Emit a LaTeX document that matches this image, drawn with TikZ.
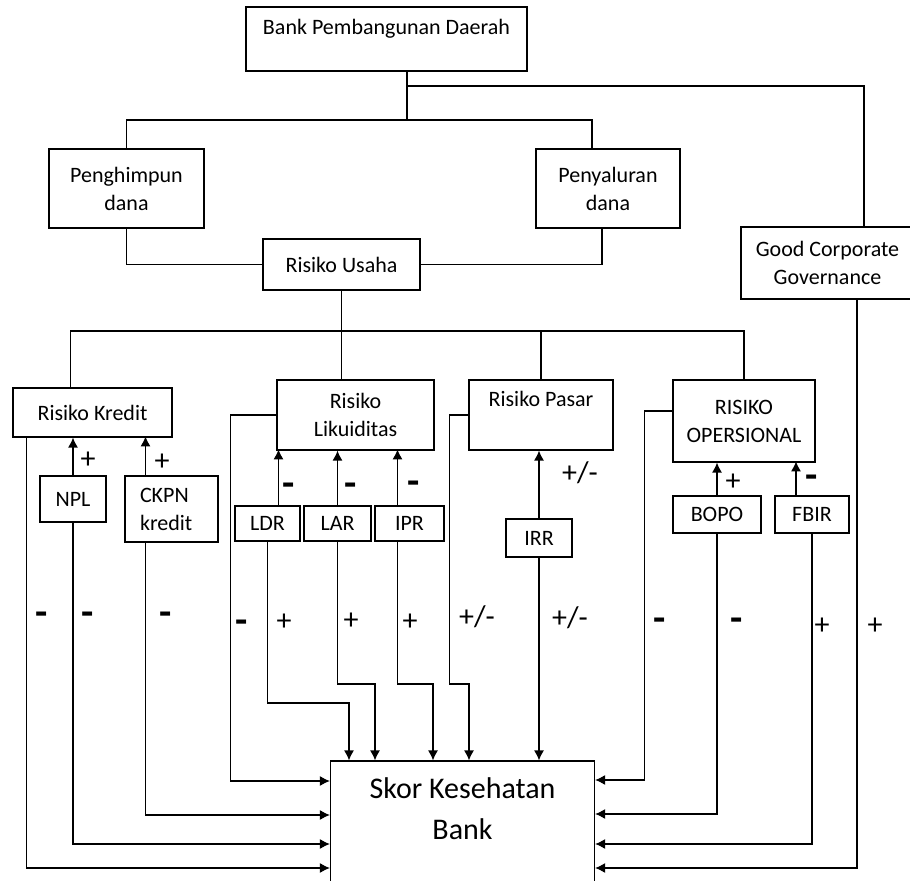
\documentclass[tikz,border=0pt]{standalone}
\usepackage{fontspec}
\setmainfont{Carlito}
\usetikzlibrary{arrows.meta,calc}

\begin{document}
\begin{tikzpicture}[x=0.5pt,y=-0.5pt,>={Latex[length=5pt,width=5pt]},line width=0.6pt,
                    box/.style={draw,rectangle,inner sep=2pt,align=center,font=\fontsize{11}{14}\selectfont},
                    plus/.style={font=\fontsize{15}{15}\selectfont},
                    minus/.style={font=\fontsize{20}{20}\selectfont\bfseries}]

  \useasboundingbox (0,0) rectangle (910,881);

  % boxes
  \node[box,minimum width=140.5pt,minimum height=32pt,text height=7.5pt,text depth=11.5pt] (bpd) at (386.5,39) {Bank Pembangunan Daerah};
  \node[box,minimum width=77.5pt,minimum height=39.5pt] (hmp) at (126.5,188.5) {Penghimpun\\dana};
  \node[box,minimum width=72pt,minimum height=39.5pt] (slr) at (608,188.5) {Penyaluran\\dana};
  \node[box,minimum width=86.5pt,minimum height=36pt] (gcg) at (827.5,263) {Good Corporate\\Governance};
  \node[box,minimum width=78.5pt,minimum height=25.5pt] (usaha) at (341.5,264.5) {Risiko Usaha};

  \node[box,minimum width=79.5pt,minimum height=24.5pt] (kredit) at (92.5,412.5) {Risiko Kredit};
  \node[box,minimum width=78.5pt,minimum height=35pt] (likuid) at (355.5,415) {Risiko\\Likuiditas};
  \node[box,minimum width=72pt,minimum height=35pt,text height=7.5pt,text depth=15.5pt] (pasar) at (541,415) {Risiko Pasar};
  \node[box,minimum width=71pt,minimum height=41pt] (opr) at (744,421) {RISIKO\\OPERSIONAL};

  \node[box,minimum width=33pt,minimum height=23pt] (npl) at (73,499) {NPL};
  \node[box,align=left,text width=31.5pt,inner xsep=7.5pt,minimum height=33pt] (ckpn) at (171.5,509) {CKPN\\kredit};
  \node[box,minimum width=32.5pt,minimum height=17.5pt] (ldr) at (267.5,523.5) {LDR};
  \node[box,minimum width=33.5pt,minimum height=17.5pt] (lar) at (337.5,523.5) {LAR};
  \node[box,minimum width=34.5pt,minimum height=17.5pt] (ipr) at (409.5,523.5) {IPR};
  \node[box,minimum width=33pt,minimum height=19pt] (irr) at (539,538) {IRR};
  \node[box,minimum width=44pt,minimum height=18.5pt] (bopo) at (717,514.5) {BOPO};
  \node[box,minimum width=37pt,minimum height=18.5pt] (fbir) at (812,514.5) {FBIR};

  \node[box,minimum width=132pt,minimum height=74pt,font=\fontsize{15}{20.5}\selectfont] (skor) at (462.5,835) {Skor Kesehatan\\Bank\\ \strut};

  % top tree
  \draw (bpd.south -| 407,0) -- (407,120);
  \draw (hmp.north) |- (407,120) -| ($(slr.north)+(-16,0)$);
  \draw (407,86) -| (gcg.north -| 864,0);
  \draw (hmp.south) |- (usaha.west);
  \draw ($(slr.south)+(-6,0)$) |- (usaha.east);

  % risiko
  \draw (usaha.south) -- (usaha.south |- likuid.north);
  \draw ($(kredit.north)+(-22,0)$) |- (opr.north |- 0,331) -- (opr.north);
  \draw (pasar.north) -- (pasar.north |- 0,331);

  \draw[->] (npl.north) -- (npl.north |- kredit.south);
  \draw[->] ($(ckpn.north)+(-26,0)$) -- ++(0,-39);
  \draw[->] ($(ldr.north)+(11,0)$) -- ++(0,-56);
  \draw[->] (lar.north) -- (lar.north |- likuid.south);
  \draw[->] ($(ipr.north)+(-12,0)$) -- ++(0,-56);
  \draw[->] (irr.north) -- (irr.north |- pasar.south);
  \draw[->] (bopo.north) -- (bopo.north |- opr.south);
  \draw[->] ($(fbir.north)+(-16,0)$) -- ++(0,-34);

  % ke skor
  \draw[->] ($(kredit.south west)+(14,0)$) |- (skor.west |- 0,868);
  \draw[->] (npl.south) |- (skor.west |- 0,844);
  \draw[->] ($(ckpn.south)+(-26,0)$) |- (skor.west |- 0,815);
  \draw[->] (likuid.west) -- ++(-46,0) |- (skor.west |- 0,781);
  \draw[->] (ldr.south) |- (349,703) -- (skor.north -| 349,0);
  \draw[->] (lar.south) |- (375,684) -- (skor.north -| 375,0);
  \draw[->] ($(ipr.south)+(-12,0)$) |- (433,684) -- (skor.north -| 433,0);
  \draw[->] (pasar.west) -- ++(-19,0) |- (469,684) -- (skor.north -| 469,0);
  \draw[->] (irr.south) -- (irr.south |- skor.north);
  \draw[->] ($(opr.west)+(0,-10)$) -- ++(-28,0) |- (skor.east |- 0,780);
  \draw[->] (bopo.south) |- (skor.east |- 0,814);
  \draw[->] (fbir.south) |- (skor.east |- 0,844);
  \draw[->] ($(gcg.south)+(29.5,0)$) |- (skor.east |- 0,868);

  % tanda
  \node[plus] (sgnpl) at (88,460) {+};
  \node[plus] (sgckpn) at (162,462) {+};
  \node[minus] (sgldr) at (289,490) {-};
  \node[minus] (sglar) at (351,490) {-};
  \node[minus] (sgipr) at (414,488) {-};
  \node[plus] (sgirr) at (580,473) {+/-};
  \node[plus] (sgbopo) at (733,482) {+};
  \node[minus] (sgfbir) at (812,482) {-};

  \node[minus] (sgkredit) at (42,619) {-};
  \node[minus] (sgnpl2) at (88,619) {-};
  \node[minus] (sgckpn2) at (166,619) {-};
  \node[minus] (sglikuid) at (242,627) {-};
  \node[plus] (sgldr2) at (284,622) {+};
  \node[plus] (sglar2) at (351,621) {+};
  \node[plus] (sgipr2) at (410,622) {+};
  \node[plus] (sgpasar) at (477,617) {+/-};
  \node[plus] (sgirr2) at (570,618) {+/-};
  \node[minus] (sgopr) at (660,625) {-};
  \node[minus] (sgbopo2) at (737,625) {-};
  \node[plus] (sgfbir2) at (822,626) {+};
  \node[plus] (sggcg) at (875,626) {+};
\end{tikzpicture}
\end{document}
